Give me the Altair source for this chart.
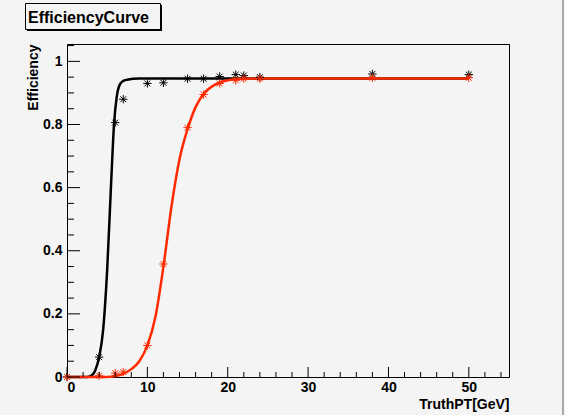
import altair as alt
import pandas as pd

# ---- data ----
pt_points = [0, 4, 6, 7, 10, 12, 15, 17, 19, 21, 22, 24, 38, 50]
eff_black = [0.0, 0.063, 0.806, 0.88, 0.93, 0.932, 0.945, 0.945, 0.952, 0.958, 0.955, 0.95, 0.96, 0.958]
eff_red = [0.0, 0.004, 0.012, 0.016, 0.10, 0.358, 0.79, 0.895, 0.93, 0.94, 0.945, 0.945, 0.948, 0.948]

fit_black_x = [0, 2.5, 3.0, 3.5, 4.0, 4.5, 5.0, 5.5, 5.85, 6.2, 6.6, 7.0, 7.5, 8.2, 9.0, 20, 35, 50]
fit_black_y = [0.0, 0.0, 0.004, 0.02, 0.063, 0.15, 0.34, 0.62, 0.80, 0.89, 0.928, 0.938, 0.942, 0.945, 0.946, 0.946, 0.946, 0.946]

fit_red_x = [0, 5, 6, 7, 8, 9, 10, 11, 12, 13, 14, 15, 16, 17, 18, 19, 20, 22, 24, 35, 50]
fit_red_y = [0.0, 0.0, 0.003, 0.01, 0.025, 0.05, 0.10, 0.19, 0.35, 0.54, 0.69, 0.785, 0.855, 0.897, 0.92, 0.933, 0.94, 0.945, 0.946, 0.946, 0.946]

y_major = [0, 0.2, 0.4, 0.6, 0.8, 1.0]
y_minor = [0.05, 0.1, 0.15, 0.25, 0.3, 0.35, 0.45, 0.5, 0.55, 0.65, 0.7, 0.75, 0.85, 0.9, 0.95, 1.05]
x_major = [0, 10, 20, 30, 40, 50]
x_minor = [2, 4, 6, 8, 12, 14, 16, 18, 22, 24, 26, 28, 32, 34, 36, 38, 42, 44, 46, 48, 52, 54]

title_text = "EfficiencyCurve"
x_title = "TruthPT[GeV]"
y_title = "Efficiency"

W, H = 442, 333
BG = "#f4f4f4"
RED = "#ff2a00"
STAR = "M-1,0L1,0M0,-1L0,1M-0.7,-0.7L0.7,0.7M-0.7,0.7L0.7,-0.7"

xs = alt.Scale(domain=[0, 55], nice=False, zero=False)
ys = alt.Scale(domain=[0, 1.055], nice=False, zero=False)

pts = pd.DataFrame({"pt": pt_points, "black": eff_black, "red": eff_red})
fb = pd.DataFrame({"pt": fit_black_x, "eff": fit_black_y})
fr = pd.DataFrame({"pt": fit_red_x, "eff": fit_red_y})

lab_font = "Liberation Sans"

x_axis = alt.Axis(
    values=x_major, format="d", ticks=False, domain=False, grid=False,
    labelFont=lab_font, labelFontWeight="bold", labelFontSize=14, labelColor="#000",
    labelPadding=3, title=x_title, titleFont=lab_font, titleFontWeight="bold",
    titleFontSize=14, titleColor="#000", titleAnchor="end", titleAlign="right",
    titleX=W, titleY=31, titleBaseline="alphabetic",
)
y_axis = alt.Axis(
    values=y_major, ticks=False, domain=False, grid=False,
    labelExpr="datum.value == 0 ? '0' : datum.value == 1 ? '1' : format(datum.value, '.1f')",
    labelFont=lab_font, labelFontWeight="bold", labelFontSize=14, labelColor="#000",
    labelPadding=5, title=y_title, titleFont=lab_font, titleFontWeight="bold",
    titleFontSize=14, titleColor="#000", titleAngle=270, titleAlign="right",
    titleX=-30, titleY=0, titleBaseline="alphabetic",
)

base_x = alt.X("pt:Q", scale=xs, axis=x_axis)

line_black = alt.Chart(fb).mark_line(color="#000", strokeWidth=2.5, interpolate="monotone").encode(
    x=base_x, y=alt.Y("eff:Q", scale=ys, axis=y_axis))
line_red = alt.Chart(fr).mark_line(color=RED, strokeWidth=2.5, interpolate="monotone").encode(
    x=alt.X("pt:Q", scale=xs), y=alt.Y("eff:Q", scale=ys))
pts_black = alt.Chart(pts).mark_point(shape=STAR, filled=False, color="#000", strokeWidth=1, size=70, opacity=1).encode(
    x=alt.X("pt:Q", scale=xs), y=alt.Y("black:Q", scale=ys))
pts_red = alt.Chart(pts).mark_point(shape=STAR, filled=False, color=RED, strokeWidth=1, size=70, opacity=1).encode(
    x=alt.X("pt:Q", scale=xs), y=alt.Y("red:Q", scale=ys))

ymaj = alt.Chart(pd.DataFrame({"v": y_major})).mark_rule(color="#000", strokeWidth=1).encode(
    y=alt.Y("v:Q", scale=ys), x=alt.value(0), x2=alt.value(13))
ymin = alt.Chart(pd.DataFrame({"v": y_minor})).mark_rule(color="#000", strokeWidth=1).encode(
    y=alt.Y("v:Q", scale=ys), x=alt.value(0), x2=alt.value(7))
xmaj = alt.Chart(pd.DataFrame({"v": x_major})).mark_rule(color="#000", strokeWidth=1).encode(
    x=alt.X("v:Q", scale=xs), y=alt.value(H), y2=alt.value(H - 10))
xmin = alt.Chart(pd.DataFrame({"v": x_minor})).mark_rule(color="#000", strokeWidth=1).encode(
    x=alt.X("v:Q", scale=xs), y=alt.value(H), y2=alt.value(H - 5))

one = pd.DataFrame({"t": [title_text]})
shadow = alt.Chart(one).mark_rect(color="#000").encode(
    x=alt.value(-40), x2=alt.value(95), y=alt.value(-39), y2=alt.value(-13))
box = alt.Chart(one).mark_rect(fill=BG, stroke="#000", strokeWidth=1).encode(
    x=alt.value(-41.5), x2=alt.value(93.5), y=alt.value(-40.5), y2=alt.value(-14.5))
ttl = alt.Chart(one).mark_text(font=lab_font, fontWeight="bold", fontSize=16, align="left",
                                baseline="alphabetic", color="#000").encode(
    text="t:N", x=alt.value(-39), y=alt.value(-21))
edge = alt.Chart(one).mark_rule(color="#aaaaaa", strokeWidth=2).encode(
    x=alt.value(496), y=alt.value(-44), y2=alt.value(H + 38))

chart = alt.layer(
    line_black, line_red, pts_black, pts_red, ymaj, ymin, xmaj, xmin, shadow, box, ttl, edge
).properties(
    width=W, height=H, background=BG,
    autosize=alt.AutoSizeParams(type="none"),
    padding={"left": 67, "top": 44, "right": 56, "bottom": 38},
).configure_view(stroke="#000", strokeWidth=1, fill=BG)

chart.save("out.html", embed_options={"renderer": "svg", "actions": False})
